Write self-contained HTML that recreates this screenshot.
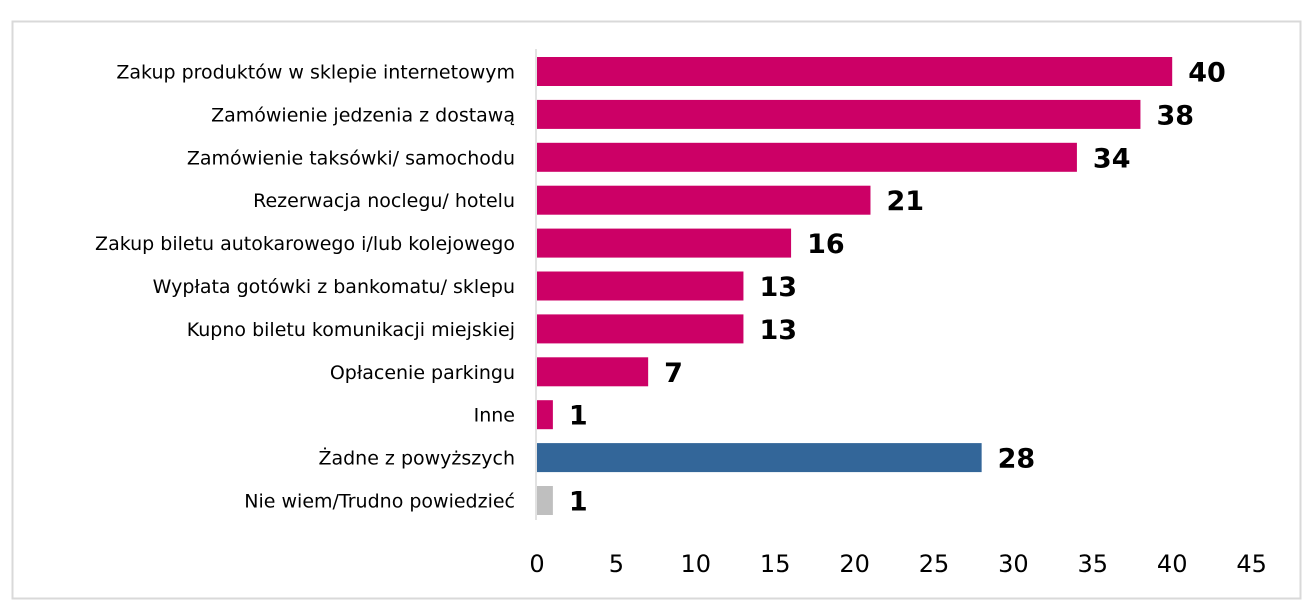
<!DOCTYPE html>
<html><head><meta charset="utf-8"><style>
body{margin:0;background:#fff;width:1313px;height:611px;overflow:hidden}
svg{display:block;font-family:"DejaVu Sans","Liberation Sans",sans-serif}
</style></head><body>
<svg id="c" width="1313" height="611">
<rect x="12.5" y="21.5" width="1288" height="577" fill="#fff" stroke="#d9d9d9" stroke-width="2"/>
</svg>
<script>
const categories=["Zakup produktów w sklepie internetowym","Zamówienie jedzenia z dostawą","Zamówienie taksówki/ samochodu","Rezerwacja noclegu/ hotelu","Zakup biletu autokarowego i/lub kolejowego","Wypłata gotówki z bankomatu/ sklepu","Kupno biletu komunikacji miejskiej","Opłacenie parkingu","Inne","Żadne z powyższych","Nie wiem/Trudno powiedzieć"];
const values=[40,38,34,21,16,13,13,7,1,28,1];
const groups=["a","a","a","a","a","a","a","a","a","b","c"];
const ticks=[0,5,10,15,20,25,30,35,40,45];
const colors={a:"#cc0066",b:"#336699",c:"#bfbfbf"};
const svg=document.getElementById('c');const NS="http://www.w3.org/2000/svg";
const x0=537,ppu=15.88;
const xs=v=>x0+v*ppu;
const yc=i=>71.5+i*42.9;
function mk(t,a){const e=document.createElementNS(NS,t);for(const k in a)e.setAttribute(k,a[k]);svg.appendChild(e);return e;}
categories.forEach((c,i)=>{
 const r=mk('rect',{x:x0,y:yc(i)-14.5,width:xs(values[i])-x0,height:29,fill:colors[groups[i]]});
 
 
 const l=mk('text',{x:515,y:yc(i)+7,'text-anchor':'end','font-size':19,fill:'#000'});l.textContent=c;
 
 
 const v=mk('text',{x:xs(values[i])+16,y:yc(i)+10,'font-size':27,'font-weight':'bold',fill:'#000'});v.textContent=values[i];
 
 
});
const ax=mk('line',{x1:536,y1:49,x2:536,y2:520,stroke:'#d9d9d9','stroke-width':1.5});


ticks.forEach(t=>{
 const e=mk('text',{x:xs(t),y:572,'text-anchor':'middle','font-size':24,fill:'#000'});e.textContent=t;
 
 
});
</script>
</body></html>
